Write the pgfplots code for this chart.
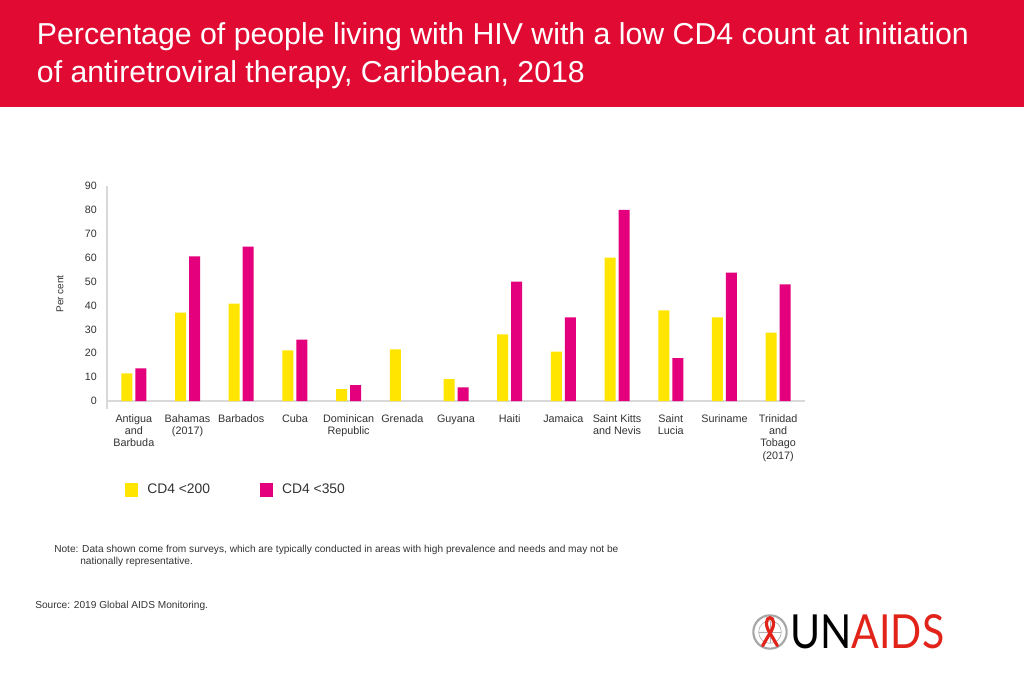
\documentclass[border=0pt]{standalone}
\usepackage{fontspec}
\setmainfont{Liberation Sans}
\newfontfamily\logofont{Lato}
\usepackage{pgfplots}
\pgfplotsset{compat=1.18}
\definecolor{unred}{HTML}{E00A32}
\definecolor{logored}{HTML}{E2231A}
\definecolor{cdyellow}{HTML}{FFE500}
\definecolor{cdmag}{HTML}{E4007C}
\definecolor{axgray}{HTML}{D9D9D9}
\definecolor{txtgray}{HTML}{333333}

\pgfplotstableread{
x y
0 11.6
1 37
2 40.8
3 21.2
4 5
5 21.6
6 9.2
7 27.9
8 20.7
9 60
10 37.9
11 35
12 28.6
}\lowcd

\pgfplotstableread{
x y
0 13.7
1 60.5
2 64.6
3 25.7
4 6.6
6 5.7
7 50
8 35
9 80
10 17.9
11 53.7
12 48.8
}\highcd

\begin{document}
\begin{tikzpicture}[x=1pt,y=1pt]
\fill[white] (0,0) rectangle (768,512.25);
\fill[unred] (0,432) rectangle (768,512.25);
\node[anchor=base west, text=white, inner sep=0, font=\fontsize{22.7}{27}\selectfont] at (27.5,478.5) {Percentage of people living with HIV with a low CD4 count at initiation};
\node[anchor=base west, text=white, inner sep=0, font=\fontsize{22.7}{27}\selectfont] at (27.5,450.5) {of antiretroviral therapy, Caribbean, 2018};

\begin{axis}[
  at={(80.25pt,211.5pt)}, anchor=south west,
  scale only axis, width=523.5pt, height=161.25pt,
  xmin=-0.5, xmax=12.5, ymin=0, ymax=90,
  clip=false,
  axis lines*=left,
  axis line style={draw=none},
  tick style={draw=none},
  /pgf/number format/assume math mode=true,
  ytick={0,10,...,90},
  xtick={0,...,12},
  xticklabels={{Antigua\\and\\Barbuda},{Bahamas\\(2017)},{Barbados},{Cuba},{Dominican\\Republic},{Grenada},{Guyana},{Haiti},{Jamaica},{Saint Kitts\\and Nevis},{Saint\\Lucia},{Suriname},{Trinidad\\and\\Tobago\\(2017)}},
  xticklabel style={align=center, font=\fontsize{8.1}{9.3}\selectfont, text=txtgray, inner sep=0pt, anchor=north, yshift=-5.5pt, execute at begin node={\vphantom{Abd}}},
  yticklabel style={font=\fontsize{8}{9}\selectfont, text=txtgray, inner sep=0pt, anchor=east, xshift=-7.5pt},
  ybar=2.25pt, bar width=8.25pt,
  legend columns=2,
  legend style={at={(rel axis cs:0.0258,-0.414)}, anchor=west, draw=none, fill=none, inner sep=0pt,
    font=\fontsize{10.4}{12}\selectfont, text=txtgray,
    nodes={inner sep=0pt},
    /tikz/every odd column/.append style={column sep=6.75pt},
    /tikz/every even column/.append style={column sep=37.5pt}},
  legend cell align=left,
  legend image code/.code={\fill[#1] (0pt,-4.9pt) rectangle (9.75pt,4.9pt);},
]
\draw[axgray, line width=0.8pt] (axis cs:-0.5,90) -- (axis cs:-0.5,-3.2);
\draw[axgray, line width=0.8pt] (axis cs:-0.5,0) -- (axis cs:12.5,0);
\addplot[fill=cdyellow, draw=none] table[x=x,y=y] {\lowcd};
\addplot[fill=cdmag, draw=none] table[x=x,y=y] {\highcd};
\legend{CD4 <200, CD4 <350}
\end{axis}

\node[rotate=90, font=\fontsize{7.5}{9}\selectfont, text=txtgray, inner sep=0] at (45,291.75) {Per cent};

\node[anchor=base west, inner sep=0, font=\fontsize{7.6}{9}\selectfont, text=txtgray] at (40.5,98.25) {Note: Data shown come from surveys, which are typically conducted in areas with high prevalence and needs and may not be};
\node[anchor=base west, inner sep=0, font=\fontsize{7.6}{9}\selectfont, text=txtgray] at (60,89.25) {nationally representative.};
\node[anchor=base west, inner sep=0, font=\fontsize{7.6}{9}\selectfont, text=txtgray] at (26.25,56.25) {Source: 2019 Global AIDS Monitoring.};

% logo
\draw[gray!70, line width=1.6pt] (577.5,38.25) circle (12.5);
\draw[gray!60, line width=0.5pt] (577.5,38.25) circle (8.5);
\draw[gray!60, line width=0.4pt] (569,38.25) -- (586,38.25) (577.5,29.75) -- (577.5,46.75);
\draw[logored, line width=2.4pt, line cap=round] (572,28) -- (577.5,37.5) .. controls (581.5,43) and (580.5,49) .. (577.5,49) .. controls (574.5,49) and (573.5,43) .. (577.5,37.5) -- (583,28);
\node[anchor=south west, inner sep=0] at (592.5,25.5) {\resizebox{115.5pt}{25.5pt}{\logofont\textcolor{black}{UN}\textcolor{logored}{AIDS}}};
\end{tikzpicture}
\end{document}
